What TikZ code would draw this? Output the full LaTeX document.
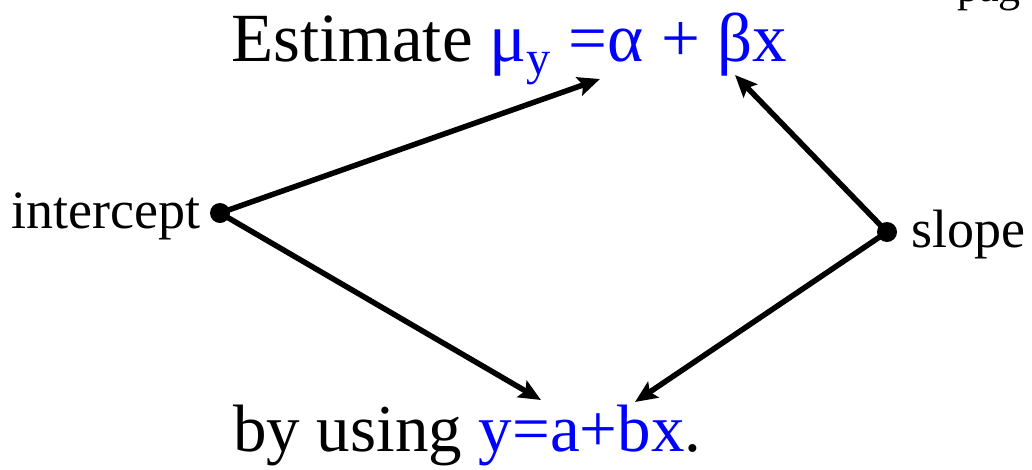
\documentclass[tikz,border=0pt]{standalone}
\usepackage{fontspec}
\setmainfont{Liberation Serif}
\usetikzlibrary{arrows.meta}

\begin{document}
\begin{tikzpicture}[
x=1pt, y=-1pt,
big/.style={font=\fontsize{69}{74}\selectfont, inner sep=0pt, anchor=base west},
side/.style={font=\fontsize{54}{60}\selectfont, inner sep=0pt},
dot/.style={circle, fill=black, inner sep=0pt, minimum size=20pt},
link/.style={line width=5.5pt, -{Stealth[length=22pt, width=19pt, inset=4pt]}}
]

\useasboundingbox (0,0) rectangle (1032,469);

%%%%%%%%%%%%%%%%%%%%%%%%%%%%%%%%%%%%%%%%%%%%%%%%%%%%%%
% TEXT LINES
%%%%%%%%%%%%%%%%%%%%%%%%%%%%%%%%%%%%%%%%%%%%%%%%%%%%%%

\node[
big
](estimate)
at (231,61)
{Estimate \textcolor{blue}{μ\textsubscript{y} =α + βx}};

\node[
big,
font=\fontsize{67}{72}\selectfont
](using)
at (233,451)
{by using \textcolor{blue}{y=a+bx}.};

\node[
font=\fontsize{44}{48}\selectfont,
inner sep=0pt,
anchor=base west
](page)
at (957,1)
{pag};

%%%%%%%%%%%%%%%%%%%%%%%%%%%%%%%%%%%%%%%%%%%%%%%%%%%%%%
% POINTS
%%%%%%%%%%%%%%%%%%%%%%%%%%%%%%%%%%%%%%%%%%%%%%%%%%%%%%

\node[dot](icpt) at (220,213){};
\node[side, anchor=base east](icptlabel) at (201,228){intercept};

\node[dot](slope) at (887,232){};
\node[side, anchor=base west](slopelabel) at (911,247){slope};

%%%%%%%%%%%%%%%%%%%%%%%%%%%%%%%%%%%%%%%%%%%%%%%%%%%%%%
% ARROW TIPS
%%%%%%%%%%%%%%%%%%%%%%%%%%%%%%%%%%%%%%%%%%%%%%%%%%%%%%

\coordinate (alphatip) at (600,79);
\coordinate (betatip) at (735,75);
\coordinate (atip) at (541,400);
\coordinate (btip) at (635,402);

%%%%%%%%%%%%%%%%%%%%%%%%%%%%%%%%%%%%%%%%%%%%%%%%%%%%%%
% LINES
%%%%%%%%%%%%%%%%%%%%%%%%%%%%%%%%%%%%%%%%%%%%%%%%%%%%%%

\draw[link] (icpt.center)--(alphatip);

\draw[link] (icpt.center)--(atip);

\draw[link] (slope.center)--(betatip);

\draw[link] (slope.center)--(btip);

\end{tikzpicture}
\end{document}
